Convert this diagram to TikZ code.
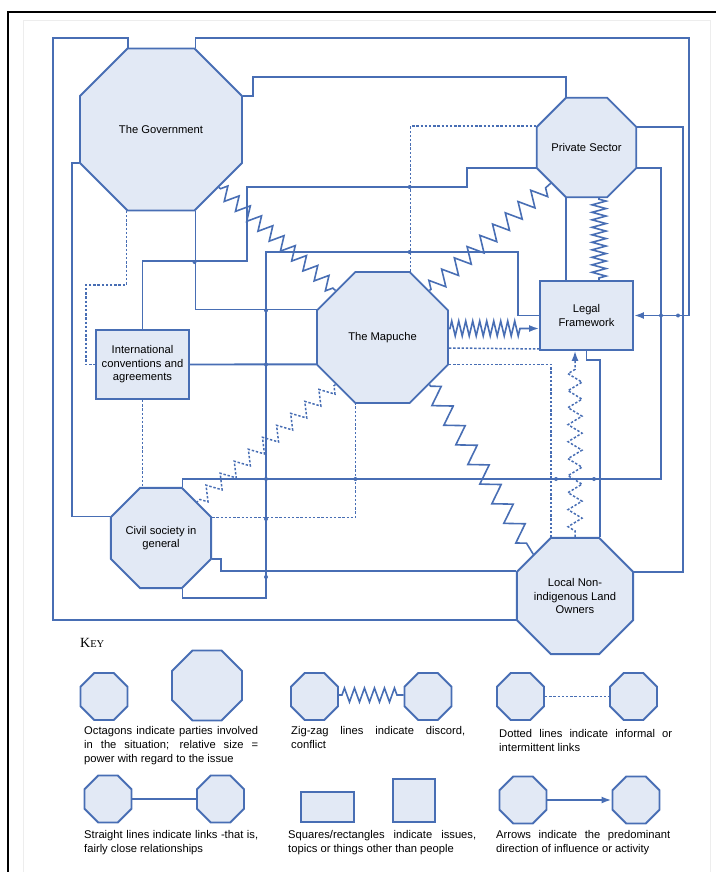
\documentclass[tikz,border=0pt]{standalone}
\usepackage{fontspec}
\setmainfont{Liberation Sans}
\newfontfamily\keyfont{Liberation Serif}
\usetikzlibrary{shapes.geometric,decorations.pathmorphing,arrows.meta}
\definecolor{linec}{RGB}{72,110,180}
\definecolor{fillc}{RGB}{226,233,245}
\setlength{\parindent}{0pt}
\begin{document}
\begin{tikzpicture}[x=1pt, y=-1pt, >={Latex[length=10pt,width=7pt]}, font=\fontsize{11.2}{13.6}\selectfont,
	party/.style={regular polygon, regular polygon sides=8, draw=linec, fill=fillc, line width=1.9pt, inner sep=0pt, align=center, minimum size=99.6},
	issue/.style={rectangle, draw=linec, fill=fillc, line width=1.9pt, minimum width=93, minimum height=69, inner sep=0pt, align=center},
	link/.style={draw=linec, line width=1.9pt},
	informal/.style={link, line width=1.5pt, dash pattern=on 2.4pt off 1.8pt},
	conflict/.style={link, line width=1.6pt, decorate, decoration={zigzag, segment length=15, amplitude=7, pre length=2, post length=2}},
	keytext/.style={anchor=north west, inner sep=0pt, align=justify, font=\fontsize{11.2}{14}\selectfont}]
	\useasboundingbox (0,0) rectangle (716,872);
	\draw[black!7, line width=1pt] (23,872) -- (23,21) -- (710,21) -- (710,872);
	\draw[line width=2pt] (8,872) -- (8,12) -- (716,12);
	\node[party, minimum size=175.3] (gov) at (161,129.5) {The Government};
	\node[party] (ps) at (586.5,147.5) {Private Sector};
	\node[party, minimum size=141.8] (map) at (382.5,337.5) {The Mapuche};
	\node[party] (civil) at (161,538) {Civil society in\\general};
	\node[party] (land) at (575,596) {Local Non-\\indigenous Land\\Owners};
	\node[issue] (legal) at (586.5,315.5) {Legal\\Framework};
	\node[issue] (intl) at (142.5,364.5) {International\\conventions and\\agreements};
	\draw[link] (gov.112.5) |- (53,38) |- (land.202.5);
	\draw[link,->] (gov.67.5) |- (689,38) |- (legal.east);
	\draw[link] (gov.22.5) -- ++(10,0) -- ++(0,-19) -| (ps.112.5);
	\draw[informal] (gov.247.5) |- (86,285) |- (intl.west);
	\draw[link] (gov.202.5) -- ++(-7,0) |- (civil.157.5);
	\draw[link] (gov.-67.5) |- (map.157.5);
	\draw[link] (intl.north) -- ++(0,-68) -| (247,187) -- (467,187) |- (ps.202.5);
	\draw[link] (civil.-67.5) -- ++(0,9) -| (266,252) -- (518,252) |- (legal.west);
	\draw[link] (intl.east) -- (map.202.5);
	\draw[informal] (intl.south) -- (intl.south |- civil.north);
	\draw[link] (civil.67.5) |- (661,479) |- (ps.-22.5);
	\draw[informal] (civil.22.5) -| (map.-112.5);
	\draw[link] (civil.-22.5) -- ++(9,0) |- (land.157.5);
	\draw[informal] (map.67.5) |- (ps.157.5);
	\draw[informal] ([yshift=-10.5pt]map.east) -- ([yshift=2pt]legal.south west);
	\draw[informal] (map.-22.5) -| (land.112.5);
	\draw[link] (ps.-112.5) -- (ps.-112.5 |- legal.north);
	\draw[link] (legal.south) -- ++(0,9) -| (land.67.5);
	\draw[link] (ps.22.5) -- ++(45.5,0) |- (land.22.5);
	\draw[conflict] (gov.-45) -- (map.135);
	\draw[conflict, decoration={segment length=17, amplitude=8}] (map.45) -- (ps.-135);
	\draw[conflict, decoration={segment length=7, amplitude=7.5, pre length=1, post length=19}, ->] ([yshift=9pt]map.east) -- ([yshift=-13pt]legal.west);
	\draw[conflict, decoration={segment length=7.5, amplitude=7, pre length=1, post length=1}] ([xshift=12.5pt]ps.south) -- ([xshift=12.5pt]legal.north);
	\draw[conflict, decoration={segment length=23, amplitude=9}] (map.-45) -- (land.135);
	\draw[conflict, informal, decoration={segment length=18.5, amplitude=7}] (map.-135) -- (civil.45);
	\draw[conflict, informal, decoration={segment length=17, amplitude=7, pre length=6, post length=14}, ->] (land.north) -- (land.north |- legal.south);
	\foreach \p in {(194.5,262),(266,310.4),(266,364.5),(266,479),(266,519),(266,577),(409.6,187),(409.6,252),(355.4,479),(556,479),(594,479),(661,315.5),(678,315.5)}
	\fill[linec] \p circle[radius=2pt];
	\node[anchor=base west, inner sep=0pt] (keytitle) at (80,647) {\keyfont{\fontsize{14}{14}\selectfont K}{\keyfont\fontsize{10.5}{10.5}\selectfont EY}};
	\node[party, minimum size=50.9] (ksmall) at (104,696.5) {};
	\node[party, minimum size=75.8] (kbig) at (207,685.5) {};
	\node[party, minimum size=50.9] (kzig1) at (314.5,696.5) {};
	\node[party, minimum size=50.9] (kzig2) at (428,696.5) {};
	\node[party, minimum size=50.9] (kdot1) at (520.5,696.5) {};
	\node[party, minimum size=50.9] (kdot2) at (633.5,696.5) {};
	\node[party, minimum size=50.9] (kline1) at (108,799) {};
	\node[party, minimum size=50.9] (kline2) at (220.5,799) {};
	\node[issue, minimum width=53, minimum height=30] (krect) at (327.5,807) {};
	\node[issue, minimum width=42, minimum height=43] (ksquare) at (414,800.5) {};
	\node[party, minimum size=50.9] (karrow1) at (523,800) {};
	\node[party, minimum size=50.9] (karrow2) at (636,800) {};
	\draw[conflict, decoration={segment length=10, amplitude=7, pre length=3, post length=3}] ([yshift=1.5pt]kzig1.east) -- ([yshift=1.5pt]kzig2.west);
	\draw[informal] (kdot1.east) -- (kdot2.west);
	\draw[link] (kline1.east) -- (kline2.west);
	\draw[link,->] (karrow1.east) -- (karrow2.west);
	\node[keytext, text width=174] (ktext1) at (84,726) {Octagons indicate parties involved\linebreak in the situation; relative size =\linebreak power with regard to the issue};
	\node[keytext, text width=174] (ktext2) at (291,726) {Zig-zag lines indicate discord,\linebreak conflict};
	\node[keytext, text width=173] (ktext3) at (499,729) {Dotted lines indicate informal or\linebreak intermittent links};
	\node[keytext, text width=174] (ktext4) at (84,830) {Straight lines indicate links -that is,\linebreak fairly close relationships};
	\node[keytext, text width=188] (ktext5) at (288,830) {Squares/rectangles indicate issues,\linebreak topics or things other than people};
	\node[keytext, text width=174] (ktext6) at (496,830) {Arrows indicate the predominant\linebreak direction of influence or activity};
\end{tikzpicture}
\end{document}
